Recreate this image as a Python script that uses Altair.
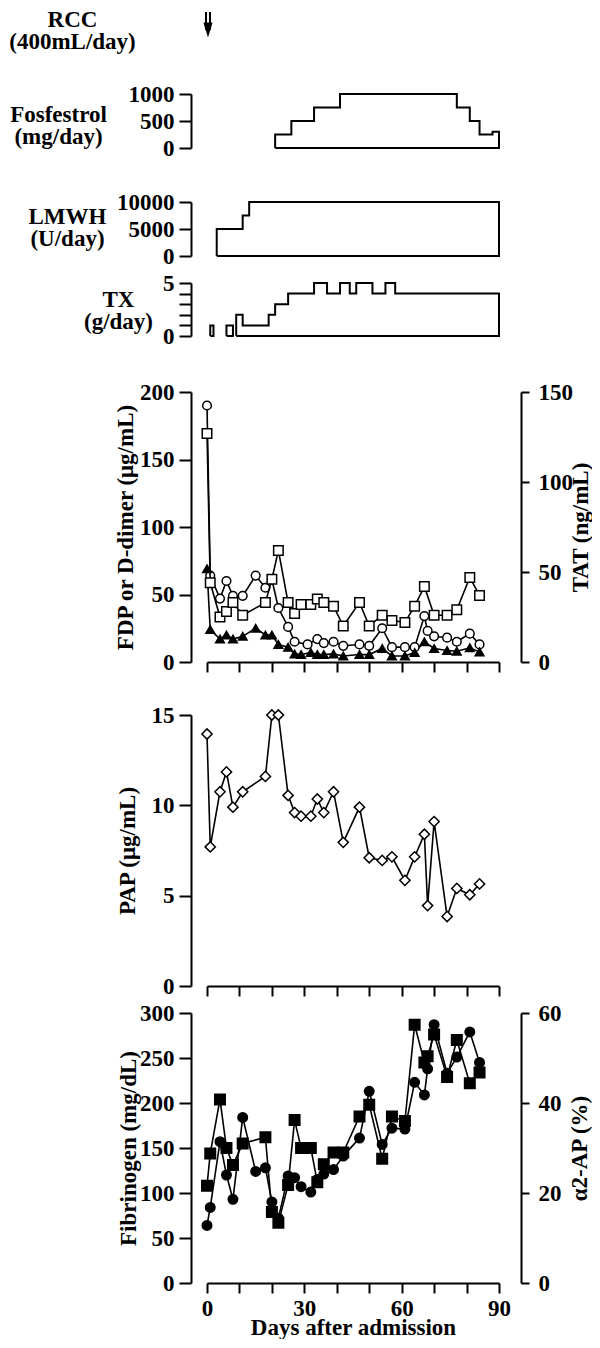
import altair as alt
import pandas as pd

FONT = "Liberation Serif"
FS = 23
W = 292
XDOM = [0, 90]
x_ticks = list(range(0, 91, 10))

# ---- data ----
rcc_days = [0]
rcc_label = ["RCC", "(400mL/day)"]

fos_days = [21, 26, 33, 41, 77, 81, 84, 88, 90]
fos_dose = [250, 500, 750, 1000, 750, 500, 250, 300]

lmwh_days = [3, 11, 13, 90]
lmwh_dose = [5000, 7500, 10000]

tx1_days = [1, 2]
tx1_dose = [1]
tx2_days = [6, 8]
tx2_dose = [1]
tx3_days = [9, 11, 19, 21, 25, 33, 37, 41, 44, 46, 51, 55, 58, 90]
tx3_dose = [2, 1, 2, 3, 4, 5, 4, 5, 4, 5, 4, 5, 4]

fdp_days = [0, 1, 4, 6, 8, 11, 15, 18, 20, 22, 25, 27, 31, 34, 36, 39, 42, 47, 50, 54,
            57, 61, 64, 67, 68, 70, 74, 77, 81, 84]
fdp_vals = [190, 64, 47, 60, 49, 49, 64, 55, 61, 40, 26, 15, 13, 17, 14, 15, 12, 13, 12, 25,
            11, 11, 11, 34, 23, 19, 18, 15, 21, 13]

dd_days = [0, 1, 4, 6, 8, 11, 15, 18, 20, 22, 25, 27, 29, 32, 34, 36, 39, 42, 47, 50,
           54, 57, 61, 64, 67, 70, 74, 77, 81, 84]
dd_vals = [69, 24, 17, 20, 17, 19, 25, 20, 20, 13, 11, 6, 5.5, 7, 5.5, 5.5, 6, 4.5, 5.5, 5.5,
           10, 4.5, 4.5, 7, 15, 10, 8.5, 8, 10.5, 7.5]

tat_days = [0, 1, 4, 6, 8, 11, 18, 20, 22, 25, 27, 29, 32, 34, 36, 39, 42, 47, 50, 54,
            57, 61, 64, 67, 70, 74, 77, 81, 84]
tat_vals = [127, 44, 25, 28, 33, 26, 33, 46, 62, 33, 27, 32, 32, 35, 33, 31, 20, 33, 20, 26,
            23, 22, 31, 42, 26, 26, 29, 47, 37]

pap_days = [0, 1, 4, 6, 8, 11, 18, 20, 22, 25, 27, 29, 32, 34, 36, 39, 42, 47, 50, 54,
            57, 61, 64, 67, 68, 70, 74, 77, 81, 84]
pap_vals = [13.95, 7.7, 10.75, 11.85, 9.9, 10.75, 11.6, 15.0, 15.0, 10.55, 9.6, 9.4, 9.4, 10.35,
            9.6, 10.75, 7.95, 9.9, 7.1, 6.95, 7.15, 5.85, 7.15, 8.4, 4.45, 9.1, 3.85, 5.4, 5.05, 5.65]

fib_days = [0, 1, 4, 6, 8, 11, 15, 18, 20, 22, 25, 27, 29, 32, 34, 36, 39, 42, 47, 50,
            54, 57, 61, 64, 67, 68, 70, 74, 77, 81, 84]
fib_vals = [64, 84, 157, 120, 93, 184, 124, 128, 90, 72, 119, 117, 107, 101, 115, 121, 126, 141,
            161, 213, 154, 172, 171, 223, 209, 238, 287, 233, 251, 279, 245]

a2ap_days = [0, 1, 4, 6, 8, 11, 18, 20, 22, 25, 27, 29, 32, 34, 36, 39, 42, 47, 50, 54,
             57, 61, 64, 67, 68, 70, 74, 77, 81, 84]
a2ap_vals = [21.6, 28.8, 40.8, 30, 26.2, 31, 32.4, 15.8, 13.4, 21.8, 36.2, 30, 30, 22.4, 26.4,
             29, 29, 37, 39.6, 27.6, 37, 36, 57.4, 49, 50.4, 55.2, 45.8, 54, 44.4, 46.8]


# ---- helpers ----
def outline(days, levels, course):
    pts = [(days[0], 0)]
    for i, lv in enumerate(levels):
        pts += [(days[i], lv), (days[i + 1], lv)]
    pts += [(days[-1], 0), (days[0], 0)]
    return pd.DataFrame({"day": [p[0] for p in pts], "val": [p[1] for p in pts],
                         "course": course, "idx": list(range(len(pts)))})


xs = alt.Scale(domain=XDOM, nice=False, zero=False)
LH = 22


def top_axis(values, title, tx, ty, label_expr=None, hidden=False):
    ax = dict(values=values, offset=16, tickSize=12, labelPadding=5, format="d", title=title,
              titleAngle=0, titleAlign="center", titleBaseline="middle",
              titleX=tx, titleY=ty, titleLineHeight=LH)
    if label_expr:
        ax["labelExpr"] = label_expr
    if hidden:
        ax.update(domain=False, ticks=False, labels=False)
    return alt.Axis(**ax)


def step_chart(df, ymax, ticks, title, tx, ty, h, label_expr=None):
    return alt.Chart(df).mark_line(color="black", strokeWidth=2, strokeJoin="miter").encode(
        x=alt.X("day:Q", scale=xs, axis=None),
        y=alt.Y("val:Q", scale=alt.Scale(domain=[0, ymax], nice=False),
                axis=top_axis(ticks, title, tx, ty, label_expr)),
        detail="course:N", order="idx:Q").properties(width=W, height=h)


def spacer(h):
    return alt.Chart(pd.DataFrame({"a": [0]})).mark_point(opacity=0).encode(
        x=alt.X("a:Q", axis=None), y=alt.Y("a:Q", axis=None)).properties(width=W, height=h)


def frame(d, v):
    return pd.DataFrame({"day": d, "val": v})


def series(df, xenc, yenc, shape, fill, size, sw=1.5):
    line = alt.Chart(df).mark_line(color="black", strokeWidth=1.6).encode(x=xenc, y=yenc)
    pts = alt.Chart(df).mark_point(shape=shape, filled=True, fill=fill, stroke="black",
                                   strokeWidth=sw, size=size, opacity=1).encode(x=xenc, y=yenc)
    return line, pts


# ---- RCC panel ----
rcc_df = pd.DataFrame({"day": rcc_days})
rcc_base = alt.Chart(rcc_df).encode(x=alt.X("day:Q", scale=xs, axis=None))
rcc = alt.layer(
    rcc_base.mark_point(opacity=0).encode(
        y=alt.Y("day:Q", scale=alt.Scale(domain=[0, 1]),
                axis=top_axis([0], rcc_label, -119, 11, hidden=True))),
    rcc_base.mark_rule(color="black", strokeWidth=2, xOffset=-1).encode(y=alt.value(4), y2=alt.value(22)),
    rcc_base.mark_rule(color="black", strokeWidth=2, xOffset=3).encode(y=alt.value(4), y2=alt.value(22)),
    rcc_base.mark_point(shape="M -1 -1.6 L 1 -1.6 L 0 1.6 Z", filled=True, color="black", opacity=1,
                        size=85, xOffset=1).encode(y=alt.value(22)),
).properties(width=W, height=32)

# ---- step panels ----
fos = step_chart(outline(fos_days, fos_dose, "f"), 1000, [0, 500, 1000],
                 ["Fosfestrol", "(mg/day)"], -133, 20, 54)
lmwh = step_chart(outline(lmwh_days, lmwh_dose, "l"), 10000, [0, 5000, 10000],
                  ["LMWH", "(U/day)"], -124, 14, 54)
tx_df = pd.concat([outline(tx1_days, tx1_dose, "a"), outline(tx2_days, tx2_dose, "b"),
                   outline(tx3_days, tx3_dose, "c")], ignore_index=True)
tx = step_chart(tx_df, 5, [0, 1, 2, 3, 4, 5], ["TX", "(g/day)"], -73, 16, 53,
                label_expr="datum.value == 0 || datum.value == 5 ? datum.label : ''")

# ---- common x axes ----
x_mid = alt.X("day:Q", scale=xs, axis=alt.Axis(values=x_ticks, labels=False, tickSize=10, title=None))
x_bot = alt.X("day:Q", scale=xs, axis=alt.Axis(values=x_ticks, tickSize=10, labelPadding=4,
                                               labelExpr="datum.value % 30 == 0 ? datum.label : ''",
                                               title="Days after admission", titlePadding=-4))


def left_axis(values, title, tx, h):
    return alt.Axis(values=values, offset=16, tickSize=12, labelPadding=5, format="d", title=title,
                    titleAngle=270, titleAlign="center", titleBaseline="middle",
                    titleX=tx, titleY=h / 2)


def right_axis(values, title, tx, h):
    return alt.Axis(values=values, orient="right", offset=22, tickSize=8, labelPadding=9,
                    format="d", title=title, titleAngle=270, titleAlign="center",
                    titleBaseline="middle", titleX=tx, titleY=h / 2)


# ---- FDP / D-dimer / TAT ----
H1 = 270
yL1 = alt.Y("val:Q", scale=alt.Scale(domain=[0, 200], nice=False),
            axis=left_axis([0, 50, 100, 150, 200], "FDP or D-dimer (μg/mL)", -66, H1))
yR1 = alt.Y("val:Q", scale=alt.Scale(domain=[0, 150], nice=False),
            axis=right_axis([0, 50, 100, 150], "TAT (ng/mL)", 59, H1))
l_fdp, p_fdp_pts = series(frame(fdp_days, fdp_vals), x_mid, yL1, "circle", "white", 75)
l_dd, p_dd_pts = series(frame(dd_days, dd_vals), x_mid, yL1, "triangle-up", "black", 75)
l_tat, p_tat_pts = series(frame(tat_days, tat_vals), x_mid, yR1, "square", "white", 90)
p_fdp = alt.layer(
    alt.layer(l_fdp, l_dd, p_fdp_pts, p_dd_pts),
    alt.layer(l_tat, p_tat_pts),
).resolve_scale(y="independent").properties(width=W, height=H1)

# ---- PAP ----
H2 = 271
yP = alt.Y("val:Q", scale=alt.Scale(domain=[0, 15], nice=False),
           axis=left_axis([0, 5, 10, 15], "PAP (μg/mL)", -64, H2))
l_pap, p_pap_pts = series(frame(pap_days, pap_vals), x_mid, yP, "diamond", "white", 105)
p_pap = alt.layer(l_pap, p_pap_pts).properties(width=W, height=H2)

# ---- Fibrinogen / alpha2-AP ----
H3 = 270
yL3 = alt.Y("val:Q", scale=alt.Scale(domain=[0, 300], nice=False),
            axis=left_axis([0, 50, 100, 150, 200, 250, 300], "Fibrinogen (mg/dL)", -63, H3))
yR3 = alt.Y("val:Q", scale=alt.Scale(domain=[0, 60], nice=False),
            axis=right_axis([0, 20, 40, 60], "α2-AP (%)", 58, H3))
l_fib, p_fib_pts = series(frame(fib_days, fib_vals), x_bot, yL3, "circle", "black", 90)
l_a2, p_a2_pts = series(frame(a2ap_days, a2ap_vals), x_bot, yR3, "square", "black", 110)
p_fib = alt.layer(
    alt.layer(l_fib, p_fib_pts),
    alt.layer(l_a2, p_a2_pts),
).resolve_scale(y="independent").properties(width=W, height=H3)

chart = alt.vconcat(
    rcc, spacer(54), fos, spacer(54), lmwh, spacer(27), tx, spacer(56),
    p_fdp, spacer(53), p_pap, spacer(27), p_fib,
    spacing=0, bounds="flush",
).properties(
    padding=0
).configure_view(stroke=None).configure_axis(
    labelFont=FONT, titleFont=FONT, labelFontWeight="bold", titleFontWeight="bold",
    labelFontSize=FS, titleFontSize=FS, labelColor="black", titleColor="black",
    domainColor="black", tickColor="black", domainWidth=2, tickWidth=2, grid=False,
    labelFlush=False, labelOverlap=False,
)

chart.save("out.html", embed_options={"renderer": "svg", "actions": False})
